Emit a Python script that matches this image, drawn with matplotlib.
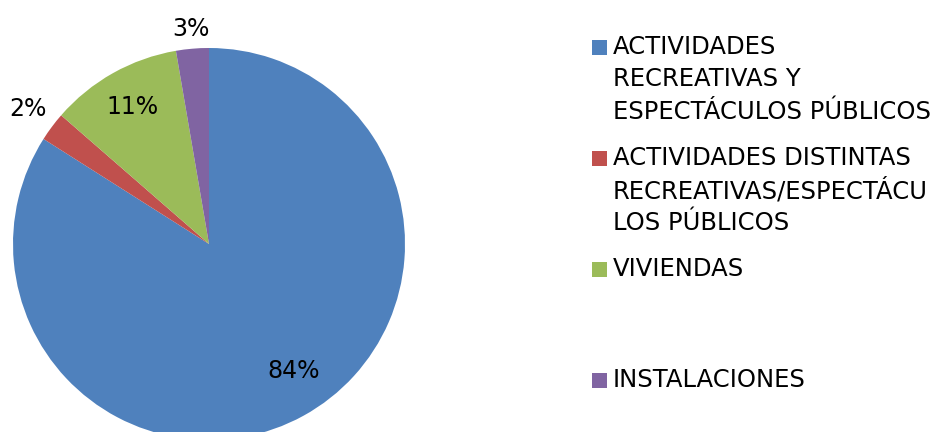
import numpy as np
import matplotlib
matplotlib.use("Agg")
from matplotlib import pyplot as plt
from matplotlib.patches import Rectangle

# data (percent of total)
categories = [
    "ACTIVIDADES\nRECREATIVAS Y\nESPECTÁCULOS PÚBLICOS",
    "ACTIVIDADES DISTINTAS\nRECREATIVAS/ESPECTÁCU\nLOS PÚBLICOS",
    "VIVIENDAS",
    "INSTALACIONES",
]
values = [84.0, 2.4, 10.9, 2.7]
pct_labels = ["84%", "2%", "11%", "3%"]
colors = ["#4F81BD", "#C0504D", "#9BBB59", "#8064A2"]

plt.rcParams['font.family'] = ['DejaVu Sans']

W, H = 947, 432
fig = plt.figure(figsize=(W / 100, H / 100), dpi=100)

# pie axes in pixel terms: centre (209, 244) from top, radius 196
cx, cy, r = 209, 244, 196
ax = fig.add_axes([(cx - r) / W, (H - cy - r) / H, 2 * r / W, 2 * r / H])
wedges, _ = ax.pie(values, colors=colors, startangle=90, counterclock=False,
                   radius=1, wedgeprops=dict(linewidth=0))
ax.set_xlim(-1, 1)
ax.set_ylim(-1, 1)
ax.set_aspect('equal')
ax.axis('off')

# percentage labels: inside for big slices, just outside for small ones
label_dist = [0.78, 1.15, 0.80, 1.10]
label_turn = [5, 0, 0, 0]  # degrees
for w, lab, d, t in zip(wedges, pct_labels, label_dist, label_turn):
    ang = np.deg2rad((w.theta1 + w.theta2) / 2 + t)
    ax.text(d * np.cos(ang), d * np.sin(ang), lab, ha='center', va='center',
            fontsize=17, color='black', clip_on=False)

# legend: each entry in a fixed slot, marker aligned to the first line
slot_top = 47
slot_step = 111
line_h = 32.5
for i, (cat, col) in enumerate(zip(categories, colors)):
    y0 = slot_top + i * slot_step
    fig.patches.append(Rectangle((592 / W, (H - y0 - 7.5) / H), 14.5 / W, 14.5 / H,
                                 transform=fig.transFigure, facecolor=col,
                                 edgecolor='none'))
    for j, line in enumerate(cat.split("\n")):
        fig.text(613 / W, (H - y0 - j * line_h) / H, line, ha='left', va='center',
                 fontsize=17.5, color='black')

fig.savefig("out.png", dpi=100)
